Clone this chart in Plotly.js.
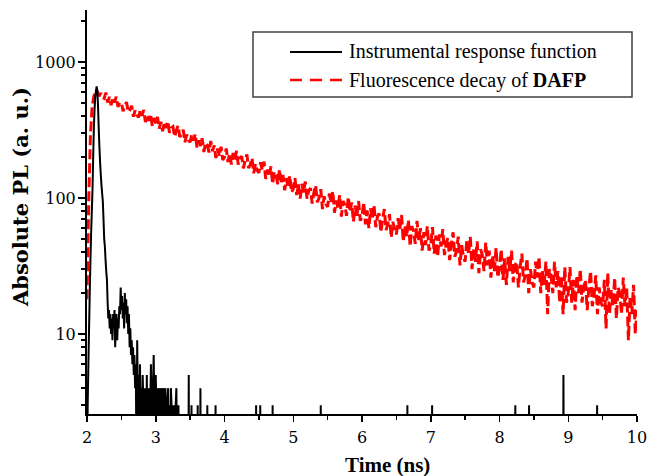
<!DOCTYPE html>
<html><head><meta charset="utf-8">
<script src="https://cdn.plot.ly/plotly-3.0.1.min.js"></script>
<style>html,body{margin:0;padding:0;background:#fff}#chart{width:650px;height:476px}</style>
</head><body><div id="chart"></div>
<script>
// ---- data ----
const seriesNames = ['Instrumental response function', 'Fluorescence decay of <b>DAFP</b>'];
const xTitle = 'Time (ns)';
const yTitle = 'Absolute PL (a. u.)';

// Fluorescence decay of DAFP: TCSPC channels, start time and channel width (ns)
const decayStart = 2.0;
const decayStep = 0.025;
const decayCounts = [
 18, 95, 290, 470, 560, 600, 612, 560, 590, 548,
 540, 595, 503, 554, 481, 550, 504, 555, 468, 501,
 503, 434, 476, 507, 429, 444, 477, 396, 441, 407,
 392, 442, 402, 444, 361, 402, 370, 415, 338, 387,
 352, 394, 324, 364, 310, 361, 327, 367, 302, 327,
 334, 282, 315, 340, 281, 292, 318, 257, 293, 267,
 257, 294, 264, 295, 235, 265, 241, 275, 218, 255,
 244, 216, 262, 221, 243, 197, 231, 203, 238, 190,
 200, 231, 184, 213, 176, 214, 191, 222, 176, 196,
 203, 165, 190, 209, 166, 176, 197, 152, 178, 160,
 153, 183, 160, 185, 138, 162, 143, 171, 127, 156,
 148, 126, 162, 131, 148, 114, 140, 119, 146, 110,
 117, 140, 105, 126, 99, 127, 110, 132, 99, 113,
 118, 91, 109, 124, 93, 100, 116, 83, 103, 90,
 86, 108, 92, 112, 78, 96, 84, 105, 73, 95,
 89, 74, 102, 79, 93, 67, 88, 73, 95, 68,
 73, 93, 64, 81, 60, 84, 70, 89, 61, 73,
 77, 56, 70, 83, 58, 64, 76, 51, 67, 57,
 54, 71, 59, 75, 48, 62, 52, 69, 44, 62,
 57, 46, 68, 49, 60, 41, 56, 45, 62, 41,
 45, 61, 39, 53, 37, 54, 44, 59, 38, 47,
 51, 35, 46, 56, 37, 41, 52, 32, 45, 37,
 34, 49, 39, 52, 30, 42, 34, 48, 28, 42,
 38, 29, 47, 32, 41, 26, 38, 29, 43, 26,
 30, 42, 25, 36, 23, 37, 29, 41, 24, 32,
 34, 22, 31, 39, 24, 27, 36, 20, 30, 24,
 22, 34, 26, 37, 20, 29, 23, 34, 14, 30,
 27, 20, 34, 22, 29, 17, 27, 14, 31, 17,
 20, 31, 17, 25, 15, 27, 20, 30, 17, 22,
 25, 15, 22, 29, 16, 19, 27, 14, 22, 17,
 16, 25, 11, 28, 14, 21, 16, 26, 13, 22,
 20, 14, 26, 16, 22, 9, 19, 14, 23, 10,
 15
];

// Instrumental response: dense channels from 2.00 ns, 0.01 ns wide (0 = no counts)
const irfStart = 2.0;
const irfStep = 0.01;
const irfCounts = [
 0, 3, 6, 11, 20, 35, 55, 80, 115, 200,
 330, 450, 550, 610, 660, 620, 480, 330, 240, 185,
 150, 125, 108, 95, 70, 50, 44, 35, 29, 25,
 17, 13, 15, 11, 14, 10, 13, 9, 14, 11,
 15, 8, 12, 14, 9, 13, 11, 16, 14, 22,
 15, 19, 13, 17, 11, 20, 14, 18, 12, 16,
 10, 14, 8, 11, 7, 9, 6, 8, 5, 7,
 4, 6, 0, 9, 3, 5, 0, 6, 3, 4,
 0, 5, 3, 0, 4, 3, 0, 5, 0, 3,
 4, 0, 3, 6, 3, 0, 4, 7, 3, 0,
 5, 3, 4, 0, 3, 4, 0, 3, 4, 0,
 3, 4, 3, 0, 4, 3, 0, 3, 4, 0,
 3, 0, 4, 3, 0, 3, 0, 3, 0, 3,
 4, 0, 0, 3, 0
];
// isolated single-channel events later in the IRF
const irfSpikeTimes  = [3.48, 3.52, 3.61, 3.65, 3.75, 3.87, 4.46, 4.52, 4.70, 5.40, 6.66, 7.02, 8.23, 8.43, 8.93, 9.42];
const irfSpikeCounts = [5, 3, 3, 4, 3, 3, 3, 3, 3, 3, 3, 3, 3, 3, 5, 3];

const xTickVals = [2, 3, 4, 5, 6, 7, 8, 9, 10];
const xMinorVals = [2.5, 3.5, 4.5, 5.5, 6.5, 7.5, 8.5, 9.5];
const yTickVals = [10, 100, 1000];
const yTickText = ['10', '100', '1000'];
const yMinorVals = [3, 4, 5, 6, 7, 8, 9, 20, 30, 40, 50, 60, 70, 80, 90, 200, 300, 400, 500, 600, 700, 800, 900, 2000];

// ---- build traces ----
const zeroFloor = 1; // zero counts drawn below the visible log range
const decayTime = decayCounts.map((_, i) => +(decayStart + i * decayStep).toFixed(3));

const irfX = [], irfY = [];
irfCounts.forEach((c, i) => { irfX.push(+(irfStart + i * irfStep).toFixed(3)); irfY.push(c > 0 ? c : zeroFloor); });
irfSpikeTimes.forEach((t, k) => {
  irfX.push(t - 0.004, t, t + 0.004);
  irfY.push(zeroFloor, irfSpikeCounts[k], zeroFloor);
});
irfX.push(10); irfY.push(zeroFloor);

const traces = [
  { x: decayTime, y: decayCounts, type: 'scatter', mode: 'lines', name: seriesNames[1],
    line: { color: '#ff0000', width: 3, dash: '10px,4px', simplify: false }, hoverinfo: 'x+y' },
  { x: irfX, y: irfY, type: 'scatter', mode: 'lines', name: seriesNames[0],
    line: { color: '#000000', width: 2, simplify: false }, hoverinfo: 'x+y' }
];

// plot-area geometry in px (used to place legend / titles in paper coords)
const L = 87, R = 637, T = 10, B = 414;
const px = v => (v - L) / (R - L);
const py = v => (B - v) / (B - T);

const serif = 'Liberation Serif, Times New Roman, serif';
const wideSerif = 'DejaVu Serif, serif';
const layout = {
  width: 650, height: 476,
  margin: { l: L, r: 650 - R, t: T, b: 476 - B },
  paper_bgcolor: '#ffffff', plot_bgcolor: '#ffffff',
  showlegend: false,
  font: { family: serif, color: '#000', size: 16 },
  xaxis: {
    range: [2, 10], tickmode: 'array', tickvals: xTickVals,
    ticks: 'outside', ticklen: 6, tickwidth: 1.5, tickcolor: '#000',
    showline: true, linewidth: 2, linecolor: '#000', mirror: false,
    showgrid: false, zeroline: false,
    tickfont: { family: wideSerif, size: 16, color: '#000' },
    ticklabelstandoff: 2,
    minor: { tickmode: 'array', tickvals: xMinorVals, ticks: 'outside', ticklen: 4, tickwidth: 1.5, tickcolor: '#000', showgrid: false }
  },
  yaxis: {
    type: 'log', range: [0.412, 3.382], tickmode: 'array', tickvals: yTickVals, ticktext: yTickText,
    ticks: 'outside', ticklen: 7, tickwidth: 1.5, tickcolor: '#000',
    showline: true, linewidth: 2, linecolor: '#000', mirror: false,
    showgrid: false, zeroline: false,
    tickfont: { family: wideSerif, size: 16, color: '#000' },
    ticklabelstandoff: -1,
    minor: { tickmode: 'array', tickvals: yMinorVals, ticks: 'outside', ticklen: 4, tickwidth: 1.5, tickcolor: '#000', showgrid: false }
  },
  shapes: [
    { type: 'rect', xref: 'paper', yref: 'paper', x0: px(253), x1: px(632), y0: py(97), y1: py(32),
      line: { color: '#404040', width: 1.5 }, fillcolor: 'rgba(255,255,255,1)', layer: 'above' },
    { type: 'line', xref: 'paper', yref: 'paper', x0: px(290), x1: px(342), y0: py(52), y1: py(52),
      line: { color: '#000000', width: 2 }, layer: 'above' },
    { type: 'line', xref: 'paper', yref: 'paper', x0: px(290), x1: px(342), y0: py(80), y1: py(80),
      line: { color: '#ff0000', width: 2.5, dash: '12px,8px' }, layer: 'above' }
  ],
  annotations: [
    { xref: 'paper', yref: 'paper', x: px(347), y: py(52), xanchor: 'left', yanchor: 'middle',
      text: seriesNames[0], showarrow: false, font: { family: serif, size: 20, color: '#000' } },
    { xref: 'paper', yref: 'paper', x: px(347), y: py(80), xanchor: 'left', yanchor: 'middle',
      text: seriesNames[1], showarrow: false, font: { family: serif, size: 20, color: '#000' } },
    { xref: 'paper', yref: 'paper', x: px(387), y: py(465), xanchor: 'center', yanchor: 'middle',
      text: '<b>' + xTitle + '</b>', showarrow: false, font: { family: serif, size: 21, color: '#000' } },
    { xref: 'paper', yref: 'paper', x: px(20), y: py(197), xanchor: 'center', yanchor: 'middle', textangle: -90,
      text: '<b>' + yTitle + '</b>', showarrow: false, font: { family: wideSerif, size: 21, color: '#000' } }
  ]
};

Plotly.newPlot('chart', traces, layout, { staticPlot: true, displayModeBar: false });
</script>
</body></html>
